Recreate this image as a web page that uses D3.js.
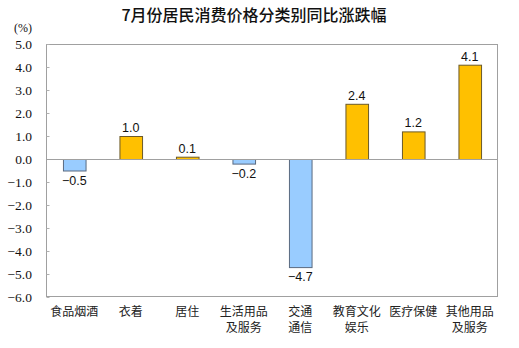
<!DOCTYPE html>
<html>
<head>
<meta charset="utf-8">
<script src="https://cdn.jsdelivr.net/npm/d3@7/dist/d3.min.js"></script>
<style>
  html, body { margin: 0; padding: 0; background: #fff; }
  svg { display: block; }
</style>
</head>
<body>
<svg id="chart" width="519" height="348"></svg>
<script>
// Year-on-year CPI change by category (%)
const categories = [
  ["食品烟酒"],
  ["衣着"],
  ["居住"],
  ["生活用品", "及服务"],
  ["交通", "通信"],
  ["教育文化", "娱乐"],
  ["医疗保健"],
  ["其他用品", "及服务"]
];
const values = [-0.5, 1.0, 0.1, -0.2, -4.7, 2.4, 1.2, 4.1];
const yTicks = [5, 4, 3, 2, 1, 0, -1, -2, -3, -4, -5, -6];
const titleText = "7月份居民消费价格分类别同比涨跌幅";
const unitText = "(%)";

const svg = d3.select("#chart");
const plot = { left: 46, right: 498, top: 44, bottom: 297 };

const cjk = "'Noto Sans CJK SC', 'Noto Sans', sans-serif";
const serif = "'Liberation Serif', 'DejaVu Serif', serif";
const sans = "'Liberation Sans', Arial, sans-serif";

const x = d3.scaleBand()
  .domain(d3.range(categories.length))
  .range([plot.left, plot.right])
  .paddingInner(0.6)
  .paddingOuter(0.3);

const y = d3.scaleLinear()
  .domain([-6, 5])
  .range([plot.bottom, plot.top]);

// Title
svg.append("text")
  .attr("x", 254)
  .attr("y", 21)
  .attr("text-anchor", "middle")
  .attr("font-family", cjk)
  .attr("font-size", 16)
  .attr("font-weight", 500)
  .attr("fill", "#111")
  .text(titleText);

// Unit label
svg.append("text")
  .attr("x", 23)
  .attr("y", 32)
  .attr("text-anchor", "middle")
  .attr("font-family", serif)
  .attr("font-size", 12)
  .attr("fill", "#111")
  .text(unitText);

// Plot frame
svg.append("rect")
  .attr("x", plot.left + 0.5)
  .attr("y", plot.top + 0.5)
  .attr("width", plot.right - plot.left - 1)
  .attr("height", plot.bottom - plot.top - 1)
  .attr("fill", "none")
  .attr("stroke", "#a0a0a0")
  .attr("stroke-width", 1);

// Y axis with small inward ticks
const yAxis = d3.axisRight(y)
  .tickValues(yTicks)
  .tickSize(3)
  .tickFormat("");
const gy = svg.append("g")
  .attr("transform", `translate(${plot.left + 0.5},0)`)
  .call(yAxis);
gy.select(".domain").remove();
gy.selectAll(".tick line").attr("stroke", "#b0b0b0");

// Y tick labels
svg.append("g")
  .selectAll("text")
  .data(yTicks)
  .join("text")
  .attr("x", 32)
  .attr("y", d => y(d))
  .attr("dy", "0.35em")
  .attr("text-anchor", "end")
  .attr("font-family", serif)
  .attr("font-size", 13.5)
  .attr("fill", "#111")
  .text(d => d3.format(".1f")(d));

// Bars
svg.append("g")
  .selectAll("rect")
  .data(values)
  .join("rect")
  .attr("x", (d, i) => x(i) + 0.5)
  .attr("y", d => Math.min(y(d), y(0)) + 0.5)
  .attr("width", x.bandwidth())
  .attr("height", d => Math.abs(y(d) - y(0)))
  .attr("fill", d => d >= 0 ? "#ffc000" : "#99ccff")
  .attr("stroke", d => d >= 0 ? "#6b5a2a" : "#5a6a80")
  .attr("stroke-width", 1);

// Zero line
svg.append("line")
  .attr("x1", plot.left)
  .attr("x2", plot.right)
  .attr("y1", Math.round(y(0)) + 0.5)
  .attr("y2", Math.round(y(0)) + 0.5)
  .attr("stroke", "#a0a0a0")
  .attr("stroke-width", 1);

// Value labels
svg.append("g")
  .selectAll("text")
  .data(values)
  .join("text")
  .attr("x", (d, i) => x(i) + x.bandwidth() / 2)
  .attr("y", d => d >= 0 ? y(d) - 4 : y(d) + 14)
  .attr("text-anchor", "middle")
  .attr("font-family", sans)
  .attr("font-size", 12.5)
  .attr("fill", "#111")
  .text(d => d3.format(".1f")(d));

// Category labels
const catG = svg.append("g");
categories.forEach((lines, i) => {
  const cx = x(i) + x.bandwidth() / 2;
  const t = catG.append("text")
    .attr("x", cx)
    .attr("y", 316)
    .attr("text-anchor", "middle")
    .attr("font-family", cjk)
    .attr("font-size", 12)
    .attr("fill", "#222");
  lines.forEach((ln, j) => {
    t.append("tspan")
      .attr("x", cx)
      .attr("dy", j === 0 ? 0 : 16)
      .text(ln);
  });
});
</script>
</body>
</html>
